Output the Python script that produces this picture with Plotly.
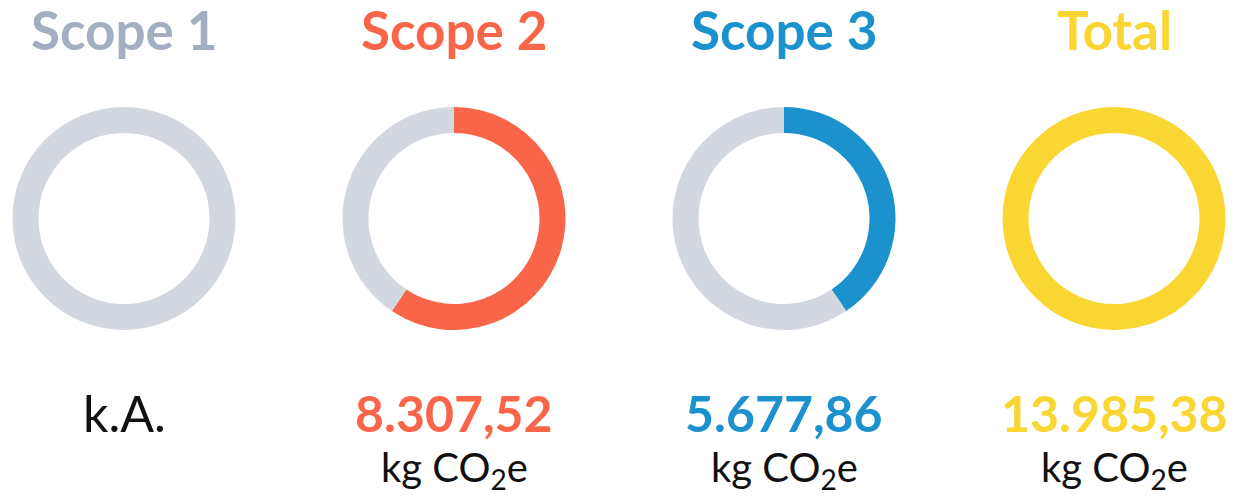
import plotly.graph_objects as go

labels = ["Scope 1", "Scope 2", "Scope 3", "Total"]
values = [None, 8307.52, 5677.86, 13985.38]
value_texts = ["k.A.", "8.307,52", "5.677,86", "13.985,38"]
unit_text = "kg CO<sub>2</sub>e"
colors = ["#A3AEC0", "#F86549", "#1B92CD", "#F9D631"]
ring_grey = "#D3D8E0"

W, H = 1235, 497
centers_x = [124, 454, 784, 1114]
cy = 218.5
R = 111.5

total = values[3]
fig = go.Figure()
for i, lab in enumerate(labels):
    v = values[i]
    if v is None:
        vals = [0, 1]
    elif i == 3:
        vals = [v, 0]
    else:
        vals = [v, total - v]
    cx = centers_x[i]
    fig.add_trace(go.Pie(
        values=vals,
        labels=[lab, "Rest"],
        marker=dict(colors=[colors[i], ring_grey], line=dict(width=0)),
        hole=0.767,
        sort=False,
        direction="clockwise",
        rotation=0,
        textinfo="none",
        hoverinfo="none",
        showlegend=False,
        domain=dict(x=[(cx - R) / W, (cx + R) / W],
                    y=[(H - cy - R) / H, (H - cy + R) / H]),
    ))
    fig.add_annotation(x=cx / W, y=1 - 29.5 / H, xref="paper", yref="paper",
                       text="<b>%s</b>" % lab, showarrow=False,
                       font=dict(family="Lato", size=53, color=colors[i]),
                       xanchor="center", yanchor="middle")
    if v is None:
        fig.add_annotation(x=cx / W, y=1 - 413 / H, xref="paper", yref="paper",
                           text=value_texts[i], showarrow=False,
                           font=dict(family="Lato", size=50, color="#111111"),
                           xanchor="center", yanchor="middle")
    else:
        fig.add_annotation(x=cx / W, y=1 - 413 / H, xref="paper", yref="paper",
                           text="<b>%s</b>" % value_texts[i], showarrow=False,
                           font=dict(family="Lato", size=50, color=colors[i]),
                           xanchor="center", yanchor="middle")
        fig.add_annotation(x=cx / W, y=1 - 469 / H, xref="paper", yref="paper",
                           text=unit_text, showarrow=False,
                           font=dict(family="Lato", size=40, color="#111111"),
                           xanchor="center", yanchor="middle")

fig.update_layout(width=W, height=H, margin=dict(l=0, r=0, t=0, b=0),
                  paper_bgcolor="white", plot_bgcolor="white")
fig.write_html("out.html", config={"displayModeBar": False})

with open("out.html", "r", encoding="utf-8") as f:
    html = f.read()
html = html.replace("<head>", "<head><style>html,body{margin:0;padding:0;overflow:hidden;}</style>", 1)
with open("out.html", "w", encoding="utf-8") as f:
    f.write(html)
